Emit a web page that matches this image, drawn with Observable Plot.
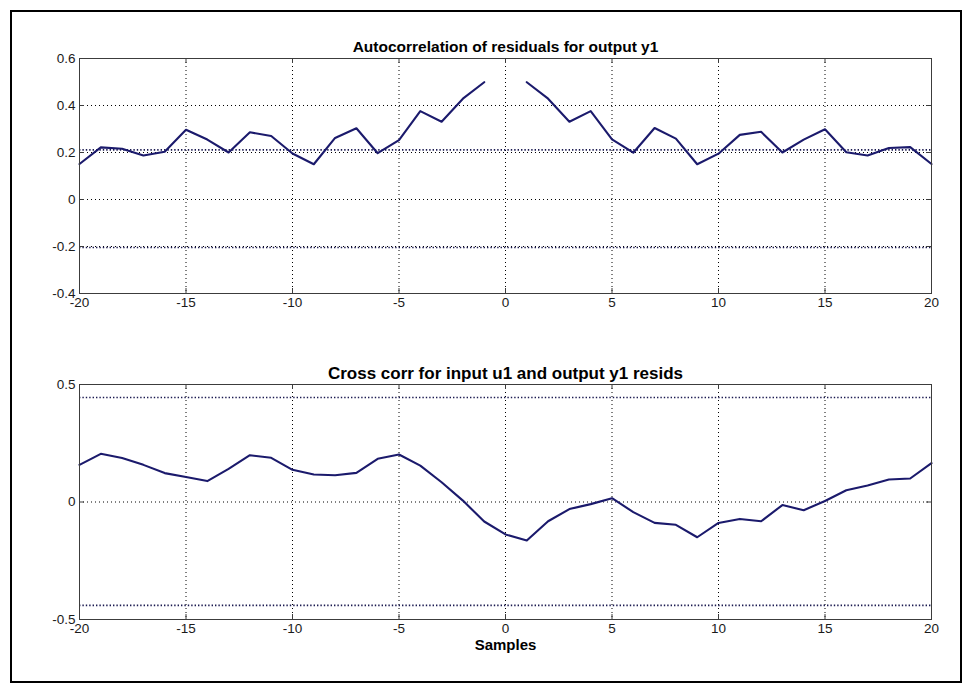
<!DOCTYPE html>
<html>
<head>
<meta charset="utf-8">
<script src="https://cdn.jsdelivr.net/npm/d3@7"></script>
<script src="https://cdn.jsdelivr.net/npm/@observablehq/plot@0.6"></script>
<style>
  html, body { margin: 0; padding: 0; background: #fff; }
  #wrap { position: relative; width: 973px; height: 691px; overflow: hidden; background: #fff; }
  #wrap svg { display: block; }
  #frame { position: absolute; left: 10px; top: 10px; width: 948px; height: 669px; border: 2px solid #000; pointer-events: none; }
</style>
</head>
<body>
<div id="wrap"><div id="frame"></div></div>
<script>
// ---------- data ----------
const lags = d3.range(-20, 21);   // -20 … 20
// autocorrelation of residuals (lag 0 not drawn)
const acValues = [
  0.151, 0.222, 0.216, 0.187, 0.203, 0.297, 0.255, 0.200, 0.286, 0.270,
  0.196, 0.150, 0.262, 0.303, 0.197, 0.253, 0.376, 0.331, 0.429, 0.499,
  null,
  0.499, 0.429, 0.331, 0.376, 0.256, 0.199, 0.304, 0.259, 0.150, 0.195,
  0.275, 0.288, 0.200, 0.255, 0.299, 0.201, 0.187, 0.219, 0.223, 0.151
];
// cross correlation input u1 / output y1 residuals
const ccValues = [
  0.158, 0.205, 0.187, 0.158, 0.123, 0.106, 0.089, 0.141, 0.199, 0.188,
  0.137, 0.117, 0.114, 0.124, 0.184, 0.202, 0.155, 0.084, 0.006, -0.083,
  -0.138,
  -0.164, -0.082, -0.030, -0.009, 0.016, -0.043, -0.089, -0.097, -0.150, -0.089,
  -0.072, -0.082, -0.013, -0.035, 0.004, 0.050, 0.070, 0.096, 0.100, 0.165
];
const acBand = [0.211, -0.204];
const ccBand = [0.445, -0.44];
const xTicks = [-20, -15, -10, -5, 0, 5, 10, 15, 20];
const acYTicks = [-0.4, -0.2, 0, 0.2, 0.4, 0.6];
const ccYTicks = [-0.5, 0, 0.5];
const titles = ["Autocorrelation of residuals for output y1", "Cross corr for input u1 and output y1 resids"];
const xLabel = "Samples";

const acData = lags.map((l, i) => ({lag: l, v: acValues[i]}));
const ccData = lags.map((l, i) => ({lag: l, v: ccValues[i]}));

const LINE = "#1b1a6c";
const AXIS = "#3c3c3c";
const FONT = "Liberation Sans, Arial, Helvetica, sans-serif";
const W = 973, PH = 235, TICK = 5;

function panel({data, yDomain, yTicks, band, title, height, marginTop, marginBottom, xlab, titleSize}) {
  const inner = xTicks.filter(t => t > xTicks[0] && t < xTicks[xTicks.length - 1]);
  const innerY = yTicks.filter(t => t > yDomain[0] && t < yDomain[1]);
  const marks = [
    Plot.gridX(inner, {stroke: "#000", strokeOpacity: 1, strokeWidth: 1, strokeDasharray: "1,3"}),
    Plot.gridY(innerY, {stroke: "#000", strokeOpacity: 1, strokeWidth: 1, strokeDasharray: "1,3"}),
    Plot.ruleY(band, {stroke: "#1b1a50", strokeWidth: 1.6, strokeDasharray: "1.4,2"}),
    // inward ticks
    Plot.tickX(xTicks, {x: d => d, stroke: AXIS, insetTop: PH - TICK}),
    Plot.tickX(xTicks, {x: d => d, stroke: AXIS, insetBottom: PH - TICK}),
    Plot.tickY(yTicks, {y: d => d, stroke: AXIS, insetRight: 852 - TICK}),
    Plot.tickY(yTicks, {y: d => d, stroke: AXIS, insetLeft: 852 - TICK}),
    Plot.line(data, {x: "lag", y: "v", stroke: LINE, strokeWidth: 2.1, strokeLinejoin: "round"}),
    Plot.frame({stroke: AXIS, strokeWidth: 1}),
    Plot.axisX({ticks: xTicks, tickSize: 0, tickPadding: 4, tickFormat: d => String(d), fontSize: 13.5, fill: "#1a1a1a", label: null}),
    Plot.axisY({ticks: yTicks, tickSize: 0, tickPadding: 4, tickFormat: d => String(d), fontSize: 13.5, fill: "#1a1a1a", label: null}),
    Plot.text([title], {text: d => d, frameAnchor: "top", dy: -18, fontSize: titleSize, fontWeight: "bold", fill: "#000"})
  ];
  if (xlab) marks.push(Plot.text([xlab], {text: d => d, frameAnchor: "bottom", dy: 30, fontSize: 15, fontWeight: "bold", fill: "#000"}));
  return Plot.plot({
    width: W, height, marginLeft: 79, marginRight: 42, marginTop, marginBottom,
    style: {fontFamily: FONT, background: "transparent", overflow: "visible"},
    x: {domain: [-20, 20], axis: null},
    y: {domain: yDomain, axis: null},
    marks
  });
}

const wrap = document.getElementById("wrap");
wrap.appendChild(panel({data: acData, yDomain: [-0.4, 0.6], yTicks: acYTicks, band: acBand, title: titles[0],
  height: 338, marginTop: 58, marginBottom: 45, xlab: null, titleSize: 15.5}));
wrap.appendChild(panel({data: ccData, yDomain: [-0.5, 0.5], yTicks: ccYTicks, band: ccBand, title: titles[1],
  height: 353, marginTop: 46, marginBottom: 72, xlab: xLabel, titleSize: 17}));
</script>
</body>
</html>
